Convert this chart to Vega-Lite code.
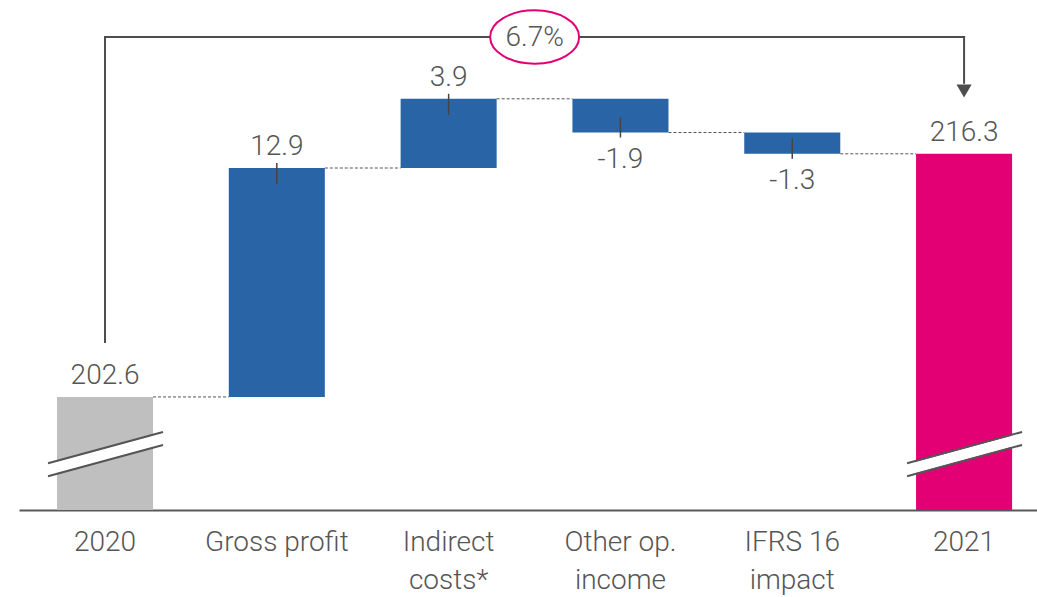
{
  "$schema": "https://vega.github.io/schema/vega-lite/v6.json",
  "width": 1018,
  "height": 490,
  "padding": {"left": 19, "right": 0, "top": 20, "bottom": 87},
  "autosize": {"type": "none"},
  "background": "white",
  "config": {"view": {"stroke": null}, "font": "Roboto"},
  "datasets": {
    "steps": [
      {"cat": "2020", "next": "Gross profit", "start": 0, "end": 202.6, "label": "202.6", "kind": "base"},
      {"cat": "Gross profit", "next": "Indirect|costs*", "start": 202.6, "end": 215.5, "label": "12.9", "kind": "delta"},
      {"cat": "Indirect|costs*", "next": "Other op.|income", "start": 215.5, "end": 219.4, "label": "3.9", "kind": "delta"},
      {"cat": "Other op.|income", "next": "IFRS 16|impact", "start": 219.4, "end": 217.5, "label": "-1.9", "kind": "delta"},
      {"cat": "IFRS 16|impact", "next": "2021", "start": 217.5, "end": 216.3, "label": "-1.3", "kind": "delta"},
      {"cat": "2021", "next": null, "start": 0, "end": 216.3, "label": "216.3", "kind": "final"}
    ],
    "breaks": [
      {"cat": "2020", "lo": 198.5, "hi": 200.26},
      {"cat": "2021", "lo": 198.5, "hi": 200.26}
    ],
    "growth": [
      {"from": "2020", "to": "2021", "mid": "Indirect|costs*", "pct": "6.7%"}
    ]
  },
  "layer": [
    {
      "data": {"name": "steps"},
      "transform": [{"filter": "datum.next != null"}],
      "mark": {"type": "rule", "color": "#555555", "strokeWidth": 1, "strokeDash": [3, 2]},
      "encoding": {
        "x": {
          "field": "cat", "type": "nominal", "bandPosition": 1,
          "scale": {
            "type": "band",
            "domain": ["2020", "Gross profit", "Indirect|costs*", "Other op.|income", "IFRS 16|impact", "2021"],
            "paddingInner": 0.441, "paddingOuter": 0.183, "align": 0.604
          },
          "axis": {
            "title": null, "labelAngle": 0, "ticks": false, "domainColor": "#595959", "domainWidth": 2,
            "labelFont": "Roboto", "labelFontSize": 28, "labelFontWeight": 300, "labelColor": "#555555", "labelPadding": 18,
            "labelLineHeight": 38, "labelExpr": "split(datum.label, '|')", "grid": false
          }
        },
        "x2": {"field": "next", "bandPosition": 0},
        "y": {"field": "end", "type": "quantitative", "scale": {"domain": [196.23, 223.84], "nice": false, "zero": false}, "axis": null}
      }
    },
    {
      "data": {"name": "steps"},
      "mark": {"type": "bar", "clip": true},
      "encoding": {
        "x": {"field": "cat", "type": "nominal"},
        "y": {"field": "end", "type": "quantitative"},
        "y2": {"field": "start"},
        "color": {"field": "kind", "type": "nominal", "scale": {"domain": ["base", "delta", "final"], "range": ["#BFBFBF", "#2965A6", "#E20074"]}, "legend": null}
      }
    },
    {
      "data": {"name": "steps"},
      "transform": [{"filter": "datum.kind == 'delta' && datum.end > datum.start"}],
      "mark": {"type": "rule", "color": "#444444", "strokeWidth": 1.5, "yOffset": -5, "y2Offset": 16},
      "encoding": {
        "x": {"field": "cat", "type": "nominal"},
        "y": {"field": "end", "type": "quantitative"},
        "y2": {"field": "end"}
      }
    },
    {
      "data": {"name": "steps"},
      "transform": [{"filter": "datum.kind == 'delta' && datum.end < datum.start"}],
      "mark": {"type": "rule", "color": "#444444", "strokeWidth": 1.5, "yOffset": -15, "y2Offset": 5},
      "encoding": {
        "x": {"field": "cat", "type": "nominal"},
        "y": {"field": "end", "type": "quantitative"},
        "y2": {"field": "end"}
      }
    },
    {
      "data": {"name": "steps"},
      "transform": [{"filter": "datum.end >= datum.start"}],
      "mark": {"type": "text", "font": "Roboto", "fontSize": 28, "fontWeight": 300, "color": "#555555", "baseline": "alphabetic", "dy": -13},
      "encoding": {
        "x": {"field": "cat", "type": "nominal"},
        "y": {"field": "end", "type": "quantitative"},
        "text": {"field": "label"}
      }
    },
    {
      "data": {"name": "steps"},
      "transform": [{"filter": "datum.end < datum.start"}],
      "mark": {"type": "text", "font": "Roboto", "fontSize": 28, "fontWeight": 300, "color": "#555555", "baseline": "alphabetic", "dy": 35},
      "encoding": {
        "x": {"field": "cat", "type": "nominal"},
        "y": {"field": "end", "type": "quantitative"},
        "text": {"field": "label"}
      }
    },
    {
      "data": {"name": "breaks"},
      "mark": {"type": "rule", "color": "white", "strokeWidth": 11, "xOffset": -57, "x2Offset": 58},
      "encoding": {
        "x": {"field": "cat", "type": "nominal"},
        "x2": {"field": "cat"},
        "y": {"field": "lo", "type": "quantitative"},
        "y2": {"field": "hi"}
      }
    },
    {
      "data": {"name": "breaks"},
      "mark": {"type": "rule", "color": "#555555", "strokeWidth": 2, "xOffset": -57, "x2Offset": 58, "yOffset": -6.5, "y2Offset": -6.5},
      "encoding": {
        "x": {"field": "cat", "type": "nominal"},
        "x2": {"field": "cat"},
        "y": {"field": "lo", "type": "quantitative"},
        "y2": {"field": "hi"}
      }
    },
    {
      "data": {"name": "breaks"},
      "mark": {"type": "rule", "color": "#555555", "strokeWidth": 2, "xOffset": -57, "x2Offset": 58, "yOffset": 6.5, "y2Offset": 6.5},
      "encoding": {
        "x": {"field": "cat", "type": "nominal"},
        "x2": {"field": "cat"},
        "y": {"field": "lo", "type": "quantitative"},
        "y2": {"field": "hi"}
      }
    },
    {
      "data": {"name": "growth"},
      "mark": {"type": "rule", "color": "#4D4D4D", "strokeWidth": 2, "strokeCap": "square"},
      "encoding": {
        "x": {"field": "from", "type": "nominal"},
        "x2": {"field": "to"},
        "y": {"datum": 222.88, "type": "quantitative"}
      }
    },
    {
      "data": {"name": "growth"},
      "mark": {"type": "rule", "color": "#4D4D4D", "strokeWidth": 2, "strokeCap": "square"},
      "encoding": {
        "x": {"field": "from", "type": "nominal"},
        "y": {"datum": 205.7, "type": "quantitative"},
        "y2": {"datum": 222.88}
      }
    },
    {
      "data": {"name": "growth"},
      "mark": {"type": "rule", "color": "#4D4D4D", "strokeWidth": 2, "strokeCap": "square"},
      "encoding": {
        "x": {"field": "to", "type": "nominal"},
        "y": {"datum": 220.3, "type": "quantitative"},
        "y2": {"datum": 222.88}
      }
    },
    {
      "data": {"name": "growth"},
      "mark": {"type": "point", "shape": "triangle-down", "size": 230, "filled": true, "color": "#4D4D4D", "opacity": 1},
      "encoding": {
        "x": {"field": "to", "type": "nominal"},
        "y": {"datum": 219.84, "type": "quantitative"}
      }
    },
    {
      "data": {"name": "growth"},
      "mark": {"type": "point", "shape": "M-1,0A1,0.6,0,1,1,1,0A1,0.6,0,1,1,-1,0Z", "size": 7921, "fill": "white", "fillOpacity": 1, "stroke": "#E20074", "strokeWidth": 2, "opacity": 1, "xOffset": 86},
      "encoding": {
        "x": {"field": "mid", "type": "nominal"},
        "y": {"datum": 222.88, "type": "quantitative"}
      }
    },
    {
      "data": {"name": "growth"},
      "mark": {"type": "text", "font": "Roboto", "fontSize": 28, "fontWeight": 300, "color": "#555555", "baseline": "middle", "xOffset": 86, "dy": 1},
      "encoding": {
        "x": {"field": "mid", "type": "nominal"},
        "y": {"datum": 222.88, "type": "quantitative"},
        "text": {"field": "pct"}
      }
    }
  ]
}
